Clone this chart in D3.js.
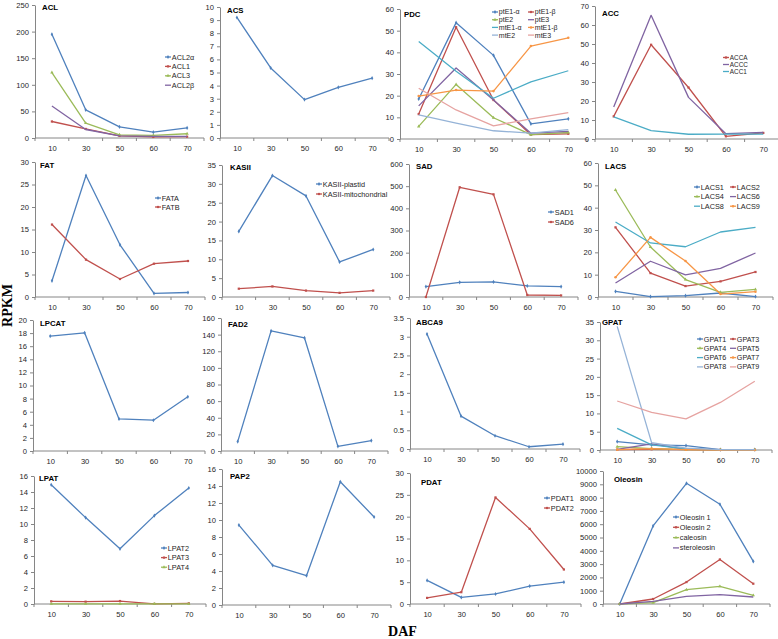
<!DOCTYPE html>
<html><head><meta charset="utf-8">
<script src="https://cdn.jsdelivr.net/npm/d3@7"></script>
<style>body{margin:0;background:#fff}svg{display:block}</style>
</head><body>
<svg id="c" width="778" height="639"></svg>
<script>
const dafLabels = ["10","30","50","60","70"];

const aclNames = ["ACL2α","ACL1","ACL3","ACL2β"];
const aclValues = [[195,53,21,11,19],[31,17,4,2,2.5],[123,28,6,5,8],[60,16,4,3,3]];
const acsNames = ["ACS"];
const acsValues = [[9.2,5.35,2.93,3.87,4.57]];
const pdcNames = ["ptE1-α","ptE1-β","ptE2","ptE3","mtE1-α","mtE1-β","mtE2","mtE3"];
const pdcValues = [
  [18.5,53.7,38.6,7,9.3],[11.5,51.6,18,2,2.4],[5.8,25.2,9.8,2,3],[15.3,32.8,18,2.7,3.5],
  [45,31.3,18.8,26.4,31.5],[19.8,22.6,22.1,42.9,46.7],[11.1,7.3,3.8,2.7,4.3],[23.4,13.4,6.1,9.3,12.2]];
const accNames = ["ACCA","ACCC","ACC1"];
const accValues = [[11.9,49.6,27.1,1.4,3.2],[16.8,65.1,21.9,2.8,3.5],[11.6,4.4,2.5,2.6,2.6]];
const fatNames = ["FATA","FATB"];
const fatValues = [[3.6,27,11.6,0.8,1.0],[16.1,8.3,4.0,7.4,8.0]];
const kasNames = ["KASII-plastid","KASII-mitochondrial"];
const kasValues = [[17.4,32.2,26.8,9.3,12.6],[2.2,2.8,1.7,1.1,1.7]];
const sadNames = ["SAD1","SAD6"];
const sadValues = [[47,66,68,50,47],[0,495,463,9,7]];
const lacsNames = ["LACS1","LACS2","LACS4","LACS6","LACS8","LACS9"];
const lacsValues = [[2.5,0.2,0.6,1.8,0.2],[31.2,10.7,4.9,7.0,11.2],[47.9,22.4,7.8,2.1,3.4],
  [6.3,16.0,9.9,12.8,19.7],[33.6,24.2,22.5,29.1,31.2],[8.8,26.7,16.1,1.3,2.4]];
const lpcatNames = ["LPCAT"];
const lpcatValues = [[17.55,18.05,4.9,4.7,8.27]];
const fad2Names = ["FAD2"];
const fad2Values = [[11.3,144.5,136,5.6,12.5]];
const abcaNames = ["ABCA9"];
const abcaValues = [[3.07,0.88,0.355,0.06,0.13]];
const gpatNames = ["GPAT1","GPAT3","GPAT4","GPAT5","GPAT6","GPAT7","GPAT8","GPAT9"];
const gpatValues = [[2.3,1.4,1.2,0.1,0.1],[0.1,0.2,0.1,0.05,0.05],[0.9,0.4,0.1,0.05,0.05],[0.2,1.7,0.2,0.1,0.1],
  [5.9,1.4,0.3,0.05,0.05],[0.1,0.4,0.1,0,0],[33.8,2.0,0.5,0.1,0.1],[13.4,10.3,8.5,13.0,18.8]];
const lpatNames = ["LPAT2","LPAT3","LPAT4"];
const lpatValues = [[14.9,10.8,6.9,11.05,14.5],[0.33,0.29,0.37,0.02,0.08],[0.02,0.02,0.02,0.02,0.02]];
const pap2Names = ["PAP2"];
const pap2Values = [[9.4,4.67,3.45,14.5,10.35]];
const pdatNames = ["PDAT1","PDAT2"];
const pdatValues = [[5.4,1.5,2.3,4.1,5.0],[1.4,2.7,24.4,17.2,7.9]];
const oleNames = ["Oleosin 1","Oleosin 2","caleosin","steroleosin"];
const oleValues = [[0,5870,9075,7500,3200],[0,375,1650,3350,1525],[0,100,1075,1325,650],[0,200,575,700,525]];

const titles = ["ACL","ACS","PDC","ACC","FAT","KASII","SAD","LACS","LPCAT","FAD2","ABCA9","GPAT","LPAT","PAP2","PDAT","Oleosin"];
const yMaxes = [250,10,60,70,30,35,600,60,20,160,3.5,35,16,16,30,10000];
const ySteps = [50,1,10,10,5,5,100,10,2,20,0.5,5,2,2,5,1000];
const seriesNames = [aclNames,acsNames,pdcNames,accNames,fatNames,kasNames,sadNames,lacsNames,lpcatNames,fad2Names,abcaNames,gpatNames,lpatNames,pap2Names,pdatNames,oleNames];
const seriesValues = [aclValues,acsValues,pdcValues,accValues,fatValues,kasValues,sadValues,lacsValues,lpcatValues,fad2Values,abcaValues,gpatValues,lpatValues,pap2Values,pdatValues,oleValues];

// ---- styles / layout ----
const palette = ["#4F81BD","#C0504D","#9BBB59","#8064A2","#4BACC6","#F79646","#95B3D7","#E6A3A1"];
const colorIdx = {3:[1,3,4]};
// [x0, x1, yTop, yZero, titleX, titleY]
const layout = [
  [35,204,5,138,42,7],[220,389,7,138,227,10],[400,587,9,139,404,14],[595,782,6,139,602,13],
  [35,205,162,297,40,165],[222,390,165,297,230,167],[409,578,164,297,416,166],[598,773,163,297,605,166],
  [33,205,320,451,40,323],[221,388,318,451,228,324],[410,580,318,449,416,322],[600,772,322,450,602,322],
  [34,206,476,604,39,478],[222,391,469,605,230,476],[410,581,473,604,421,482],[603,770,471,604,614,479]
];
// legend: [lx, ly, rowH, colW, ncols, fontSize] or null
const legends = [
  [165,57,9.4,0,1,7.3],null,[492,12,7.7,36,2,7],[723,57.5,7,0,1,6.4],
  [155,198,9,0,1,7.3],[316,184,10,0,1,7.3],[548,212,10,0,1,7.3],[694,187,9.6,36,2,7.3],
  null,null,null,[697,339,9.3,33,2,7.2],
  [161,548,9.6,0,1,7.3],null,[544,498,10,0,1,7.3],[673,517,10.3,0,1,7.3]
];

const svg = d3.select("#c");
const axisColor = "#868686";
const textColor = "#262626";
const tickFont = "Liberation Sans, Arial, sans-serif";

function marker(ci){
  const t = {0:d3.symbolDiamond,1:d3.symbolSquare,2:d3.symbolTriangle,5:d3.symbolCircle}[ci];
  return t ? d3.symbol().type(t).size(5)() : null;
}

titles.forEach((title,i)=>{
  const [x0,x1,yTop,yZero,tx,ty] = layout[i];
  const x = d3.scalePoint().domain(dafLabels).range([x0,x1]).padding(0.5);
  const band = d3.scaleBand().domain(dafLabels).range([x0,x1]);
  const y = d3.scaleLinear().domain([0,yMaxes[i]]).range([yZero,yTop]);
  const ticks = d3.range(0, yMaxes[i] + ySteps[i]/2, ySteps[i]);
  const g = svg.append("g");

  const ya = g.append("g").attr("transform",`translate(${x0},0)`)
    .call(d3.axisLeft(y).tickValues(ticks).tickSize(3).tickSizeOuter(0).tickPadding(3).tickFormat(d3.format("~g")));
  const xa = g.append("g").attr("transform",`translate(0,${yZero})`)
    .call(d3.axisBottom(x).tickSize(0).tickPadding(8));
  xa.select(".domain").remove();
  g.append("line").attr("x1",x0).attr("x2",x1).attr("y1",yZero).attr("y2",yZero).attr("stroke",axisColor);
  const bounds = dafLabels.map(d=>band(d)).concat([x1]);
  g.selectAll(".xt").data(bounds).join("line").attr("class","xt")
    .attr("x1",d=>d).attr("x2",d=>d).attr("y1",yZero).attr("y2",yZero+3).attr("stroke",axisColor);
  [ya,xa].forEach(a=>{
    a.selectAll(".domain,.tick line").attr("stroke",axisColor);
    a.selectAll("text").attr("fill",textColor).style("font-family",tickFont).style("font-size","7.6px");
  });

  g.append("text").attr("x",tx).attr("y",ty+2.8).text(title)
    .style("font-family",tickFont).style("font-weight","bold").style("font-size","7.8px").attr("fill","#000");

  const line = d3.line().x((d,j)=>x(dafLabels[j])).y(d=>y(d));
  const cis = colorIdx[i] || seriesNames[i].map((_,k)=>k);
  seriesValues[i].forEach((vals,k)=>{
    const ci = cis[k], col = palette[ci];
    g.append("path").datum(vals).attr("d",line).attr("fill","none").attr("stroke",col).attr("stroke-width",1.3).attr("stroke-linejoin","round");
    const m = marker(ci);
    if(m){
      g.selectAll(null).data(vals).join("path").attr("d",m)
        .attr("transform",(d,j)=>`translate(${x(dafLabels[j])},${y(d)})`).attr("fill",col);
    }
  });

  const lg = legends[i];
  if(lg){
    const [lx,ly,rh,cw,nc,fs] = lg;
    seriesNames[i].forEach((name,k)=>{
      const ci = cis[k], col = palette[ci];
      const px = lx + (k%nc)*cw, py = ly + Math.floor(k/nc)*rh;
      g.append("line").attr("x1",px).attr("x2",px+6).attr("y1",py).attr("y2",py).attr("stroke",col).attr("stroke-width",1.3);
      const m = marker(ci);
      if(m) g.append("path").attr("d",m).attr("transform",`translate(${px+3},${py})`).attr("fill",col);
      g.append("text").attr("x",px+6.8).attr("y",py).attr("dy","0.35em").text(name)
        .style("font-family",tickFont).style("font-size",fs+"px").attr("fill",textColor);
    });
  }
});

svg.append("text").attr("transform","translate(12,305.5) rotate(-90)").attr("text-anchor","middle").text("RPKM")
  .style("font-family","Liberation Serif, Times New Roman, serif").style("font-weight","bold").style("font-size","14px");
svg.append("text").attr("x",402.5).attr("y",636).attr("text-anchor","middle").text("DAF")
  .style("font-family","Liberation Serif, Times New Roman, serif").style("font-weight","bold").style("font-size","14px");
</script>
</body></html>
